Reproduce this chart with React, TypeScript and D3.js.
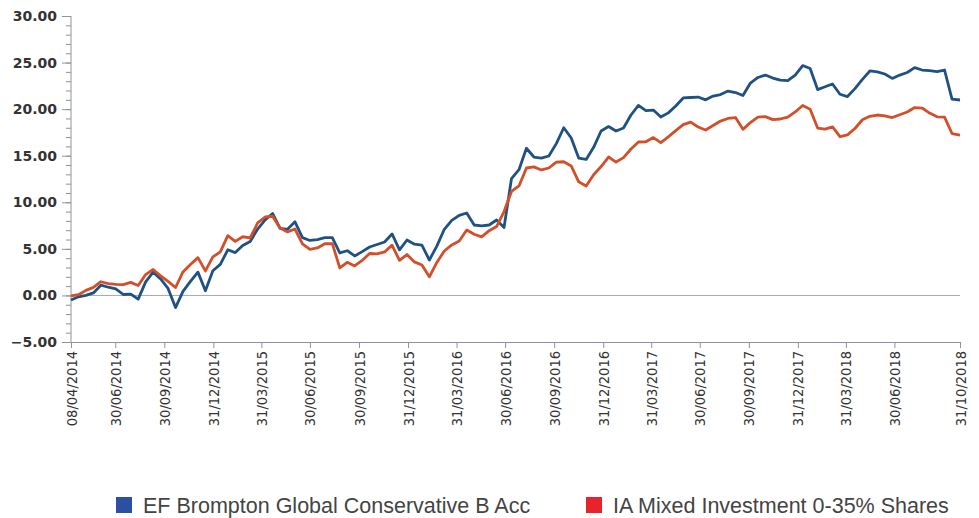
import React, { useEffect, useRef } from "react";
import * as d3 from "d3";

// fortnightly sample dates
const dates = [
  "2014-04-08", "2014-04-22", "2014-05-06", "2014-05-20", "2014-06-03", "2014-06-17", "2014-07-01", "2014-07-15", "2014-07-29", "2014-08-12",
  "2014-08-26", "2014-09-09", "2014-09-23", "2014-10-07", "2014-10-21", "2014-11-04", "2014-11-18", "2014-12-02", "2014-12-16", "2014-12-30",
  "2015-01-13", "2015-01-27", "2015-02-10", "2015-02-24", "2015-03-10", "2015-03-24", "2015-04-07", "2015-04-21", "2015-05-05", "2015-05-19",
  "2015-06-02", "2015-06-16", "2015-06-30", "2015-07-14", "2015-07-28", "2015-08-11", "2015-08-25", "2015-09-08", "2015-09-22", "2015-10-06",
  "2015-10-20", "2015-11-03", "2015-11-17", "2015-12-01", "2015-12-15", "2015-12-29", "2016-01-12", "2016-01-26", "2016-02-09", "2016-02-23",
  "2016-03-08", "2016-03-22", "2016-04-05", "2016-04-19", "2016-05-03", "2016-05-17", "2016-05-31", "2016-06-14", "2016-06-28", "2016-07-12",
  "2016-07-26", "2016-08-09", "2016-08-23", "2016-09-06", "2016-09-20", "2016-10-04", "2016-10-18", "2016-11-01", "2016-11-15", "2016-11-29",
  "2016-12-13", "2016-12-27", "2017-01-10", "2017-01-24", "2017-02-07", "2017-02-21", "2017-03-07", "2017-03-21", "2017-04-04", "2017-04-18",
  "2017-05-02", "2017-05-16", "2017-05-30", "2017-06-13", "2017-06-27", "2017-07-11", "2017-07-25", "2017-08-08", "2017-08-22", "2017-09-05",
  "2017-09-19", "2017-10-03", "2017-10-17", "2017-10-31", "2017-11-14", "2017-11-28", "2017-12-12", "2017-12-26", "2018-01-09", "2018-01-23",
  "2018-02-06", "2018-02-20", "2018-03-06", "2018-03-20", "2018-04-03", "2018-04-17", "2018-05-01", "2018-05-15", "2018-05-29", "2018-06-12",
  "2018-06-26", "2018-07-10", "2018-07-24", "2018-08-07", "2018-08-21", "2018-09-04", "2018-09-18", "2018-10-02", "2018-10-16", "2018-10-31",
];

const bromptonValues = [
  -0.5, -0.15, 0.0, 0.27, 1.1, 0.88, 0.7, 0.1, 0.15, -0.4,
  1.45, 2.5, 1.77, 0.75, -1.3, 0.43, 1.5, 2.5, 0.5, 2.65,
  3.33, 4.9, 4.6, 5.36, 5.8, 7.13, 8.1, 8.8, 7.2, 7.1,
  7.9, 6.2, 5.9, 6.0, 6.2, 6.2, 4.56, 4.8, 4.24, 4.7,
  5.2, 5.47, 5.74, 6.6, 4.9, 5.95, 5.5, 5.4, 3.8, 5.3,
  7.1, 8.05, 8.6, 8.85, 7.56, 7.46, 7.56, 8.1, 7.3, 12.55,
  13.5, 15.8, 14.86, 14.75, 14.97, 16.3, 18.0, 16.9, 14.75, 14.6,
  15.9, 17.65, 18.13, 17.65, 17.97, 19.37, 20.4, 19.85, 19.9, 19.15,
  19.6, 20.33, 21.2, 21.25, 21.3, 21.0, 21.4, 21.57, 21.94, 21.78,
  21.46, 22.8, 23.4, 23.66, 23.34, 23.12, 23.07, 23.66, 24.68, 24.36,
  22.1, 22.4, 22.7, 21.6, 21.35, 22.2, 23.2, 24.1, 24.0, 23.77,
  23.3, 23.66, 23.93, 24.46, 24.2, 24.14, 24.03, 24.2, 21.08, 20.98,
];

const sectorValues = [
  -0.05, 0.08, 0.54, 0.86, 1.47, 1.26, 1.19, 1.16, 1.4, 1.07,
  2.24, 2.79, 2.1, 1.5, 0.85, 2.52, 3.33, 4.06, 2.63, 4.13,
  4.67, 6.42, 5.8, 6.3, 6.17, 7.78, 8.42, 8.5, 7.24, 6.82,
  7.13, 5.53, 4.94, 5.1, 5.55, 5.57, 2.95, 3.56, 3.17, 3.76,
  4.5, 4.47, 4.67, 5.4, 3.76, 4.39, 3.6, 3.27, 2.0, 3.54,
  4.77, 5.42, 5.85, 7.03, 6.57, 6.28, 6.95, 7.4, 9.0, 11.16,
  11.75, 13.68, 13.8, 13.47, 13.68, 14.32, 14.35, 13.9, 12.2, 11.75,
  12.96, 13.84, 14.86, 14.32, 14.8, 15.72, 16.47, 16.5, 16.95, 16.4,
  17.03, 17.7, 18.33, 18.6, 18.08, 17.76, 18.24, 18.72, 19.0, 19.1,
  17.83, 18.56, 19.15, 19.2, 18.88, 18.94, 19.15, 19.7, 20.39, 20.0,
  17.97, 17.86, 18.1, 17.05, 17.24, 17.92, 18.86, 19.23, 19.37, 19.28,
  19.1, 19.4, 19.69, 20.17, 20.12, 19.58, 19.18, 19.15, 17.38, 17.22,
];

const tickDates = [
  "2014-04-08", "2014-06-30", "2014-09-30", "2014-12-31", "2015-03-31", "2015-06-30", "2015-09-30",
  "2015-12-31", "2016-03-31", "2016-06-30", "2016-09-30", "2016-12-31", "2017-03-31", "2017-06-30",
  "2017-09-30", "2017-12-31", "2018-03-31", "2018-06-30", "2018-10-31",
];

const seriesNames = ["EF Brompton Global Conservative B Acc", "IA Mixed Investment 0-35% Shares"];
const lineColors = ["#1f5182", "#d24f2a"];
const legendColors = ["#2b4fa3", "#e8232b"];

function Chart() {
  const ref = useRef<SVGSVGElement>(null);

  useEffect(() => {
    const svg = d3.select(ref.current);
    svg.selectAll("*").remove();

    const parse = d3.utcParse("%Y-%m-%d");
    const x = d3.scaleUtc()
      .domain([parse(dates[0])!, parse(dates[dates.length - 1])!])
      .range([71, 960]);
    const y = d3.scaleLinear().domain([-5, 30]).range([342, 16]);

    const axisColor = "#8e949e";

    // zero line
    svg.append("line")
      .attr("x1", 71).attr("x2", 960)
      .attr("y1", y(0)).attr("y2", y(0))
      .attr("stroke", "#a3a8b0").attr("stroke-width", 1);

    // y axis: minor ticks
    svg.append("g")
      .attr("transform", "translate(71,0)")
      .call(d3.axisLeft(y).tickValues(d3.range(-5, 31, 1)).tickSize(5).tickFormat(() => ""))
      .call(g => g.select(".domain").remove())
      .call(g => g.selectAll("line").attr("stroke", axisColor));

    // y axis: major ticks
    svg.append("g")
      .attr("transform", "translate(71,0)")
      .call(d3.axisLeft(y).tickValues([-5, 0, 5, 10, 15, 20, 25, 30]).tickSize(9).tickPadding(5)
        .tickFormat(d => d3.format(".2f")(d as number)))
      .call(g => g.select(".domain").attr("stroke", axisColor).attr("d", `M0,${y(30)}V${y(-5)}`))
      .call(g => g.selectAll("line").attr("stroke", axisColor))
      .call(g => g.selectAll("text")
        .style("font-family", "'DejaVu Sans', Verdana, sans-serif")
        .style("font-size", "14px")
        .style("font-weight", "bold")
        .attr("fill", "#333"));

    // x axis
    const fmt = d3.utcFormat("%d/%m/%Y");
    svg.append("g")
      .attr("transform", `translate(0,${y(-5)})`)
      .call(d3.axisBottom(x).tickValues(tickDates.map(d => parse(d)!)).tickSize(6).tickSizeOuter(0)
        .tickFormat(d => fmt(d as Date)))
      .call(g => g.select(".domain").attr("stroke", axisColor))
      .call(g => g.selectAll("line").attr("stroke", axisColor))
      .call(g => g.selectAll("text")
        .style("font-family", "'DejaVu Sans Condensed', 'DejaVu Sans', sans-serif")
        .style("font-stretch", "condensed")
        .style("font-size", "14.5px")
        .attr("fill", "#333")
        .attr("transform", "rotate(-90)")
        .attr("text-anchor", "end")
        .attr("x", -9)
        .attr("y", 0)
        .attr("dy", "0.35em"));

    // lines
    const series = [bromptonValues, sectorValues];
    const line = d3.line<number>()
      .x((_, i) => x(parse(dates[i])!))
      .y(d => y(d));

    series.forEach((vals, i) => {
      svg.append("path")
        .datum(vals)
        .attr("fill", "none")
        .attr("stroke", lineColors[i])
        .attr("stroke-width", 2.8)
        .attr("stroke-linejoin", "round")
        .attr("d", line);
    });

    // legend
    const legendX = [116, 586];
    const legend = svg.append("g");
    seriesNames.forEach((name, i) => {
      legend.append("rect")
        .attr("x", legendX[i]).attr("y", 497)
        .attr("width", 16).attr("height", 16)
        .attr("fill", legendColors[i]);
      legend.append("text")
        .attr("x", legendX[i] + 27).attr("y", 513)
        .style("font-family", "'Liberation Sans', Arial, sans-serif")
        .style("font-size", "21.5px")
        .attr("fill", "#444")
        .text(name);
    });
  }, []);

  return (
    <svg ref={ref} width={979} height={518}
      style={{ position: "absolute", left: 0, top: 0, background: "#fff" }} />
  );
}

export default function App() {
  return <Chart />;
}
